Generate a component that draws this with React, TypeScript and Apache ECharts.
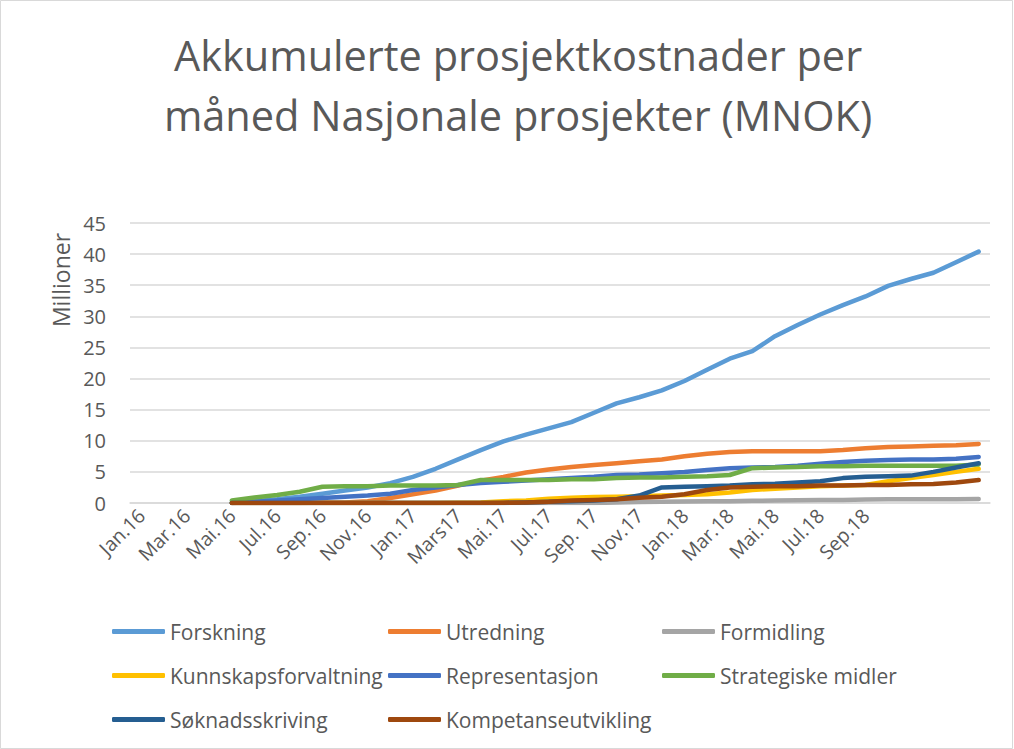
import React, { useEffect, useRef } from "react";
import * as echarts from "echarts";

const TITLE = "Akkumulerte prosjektkostnader per\nmåned Nasjonale prosjekter (MNOK)";
const Y_NAME = "Millioner";

const MONTHS = [
  "Jan.16", "Feb.16", "Mar.16", "Apr.16", "Mai.16", "Jun.16", "Jul.16", "Aug.16", "Sep.16", "Okt.16", "Nov.16", "Des.16",
  "Jan.17", "Feb.17", "Mars17", "Apr.17", "Mai.17", "Jun.17", "Jul.17", "Aug.17", "Sep. 17", "Okt.17", "Nov.17", "Des.17",
  "Jan.18", "Feb.18", "Mar.18", "Apr.18", "Mai.18", "Jun.18", "Jul.18", "Aug.18", "Sep.18", "Okt.18", "Nov.18", "Des.18",
  "Jan.19", "Feb.19",
];
const LAST_LABELLED = "Sep.18";

const N = null;
const FORSKNING = [N, N, N, N, 0.1, 0.3, 0.6, 1.0, 1.5, 2.0, 2.5, 3.2, 4.2, 5.5, 7.0, 8.5, 9.9, 11.0, 12.0, 13.0, 14.5, 16.0, 17.0, 18.1, 19.6, 21.4, 23.2, 24.4, 26.8, 28.6, 30.3, 31.8, 33.2, 34.9, 36.0, 37.0, 38.7, 40.4];
const UTREDNING = [N, N, N, N, 0, 0, 0, 0, 0.1, 0.1, 0.3, 0.8, 1.4, 2.0, 2.8, 3.6, 4.2, 4.9, 5.4, 5.8, 6.1, 6.4, 6.7, 7.0, 7.5, 7.9, 8.2, 8.3, 8.3, 8.3, 8.3, 8.5, 8.8, 9.0, 9.1, 9.2, 9.3, 9.5];
const FORMIDLING = [N, N, N, N, 0, 0, 0, 0, 0, 0, 0, 0, 0, 0, 0, 0, 0, 0, 0, 0, 0, 0.1, 0.15, 0.2, 0.25, 0.3, 0.3, 0.35, 0.4, 0.45, 0.5, 0.5, 0.55, 0.6, 0.6, 0.6, 0.6, 0.65];
const KUNNSKAP = [N, N, N, N, 0, 0, 0, 0, 0, 0, 0, 0, 0, 0, 0.05, 0.1, 0.3, 0.4, 0.7, 0.85, 0.95, 1.0, 1.1, 1.2, 1.3, 1.4, 1.7, 2.1, 2.3, 2.5, 2.7, 2.8, 2.9, 3.5, 4.0, 4.5, 5.0, 5.5];
const REPRESENTASJON = [N, N, N, N, 0, 0.2, 0.4, 0.6, 0.8, 1.0, 1.2, 1.5, 2.1, 2.5, 2.9, 3.2, 3.4, 3.6, 3.8, 4.0, 4.2, 4.5, 4.6, 4.8, 5.0, 5.3, 5.6, 5.7, 5.8, 6.0, 6.3, 6.6, 6.8, 6.9, 7.0, 7.0, 7.1, 7.4];
const STRATEGISKE = [N, N, N, N, 0.4, 0.9, 1.3, 1.8, 2.6, 2.7, 2.7, 2.8, 2.8, 2.8, 2.9, 3.7, 3.7, 3.7, 3.7, 3.8, 3.8, 4.0, 4.1, 4.1, 4.2, 4.3, 4.5, 5.6, 5.7, 5.8, 5.9, 5.9, 6.0, 6.0, 6.0, 6.0, 6.0, 6.2];
const SOKNAD = [N, N, N, N, 0, 0, 0, 0, 0, 0, 0, 0, 0, 0, 0, 0, 0, 0.1, 0.2, 0.3, 0.4, 0.6, 1.2, 2.5, 2.6, 2.7, 2.8, 3.0, 3.1, 3.3, 3.5, 4.0, 4.2, 4.3, 4.4, 5.0, 5.7, 6.4];
const KOMPETANSE = [N, N, N, N, 0, 0, 0, 0, 0, 0, 0, 0, 0, 0, 0, 0, 0.05, 0.1, 0.2, 0.4, 0.5, 0.6, 0.85, 1.0, 1.4, 2.1, 2.5, 2.6, 2.7, 2.7, 2.8, 2.8, 2.9, 2.9, 3.0, 3.05, 3.3, 3.7];

const SERIES_NAMES = [
  "Forskning", "Utredning", "Formidling",
  "Kunnskapsforvaltning", "Representasjon", "Strategiske midler",
  "Søknadsskriving", "Kompetanseutvikling",
];
const SERIES_VALUES = [FORSKNING, UTREDNING, FORMIDLING, KUNNSKAP, REPRESENTASJON, STRATEGISKE, SOKNAD, KOMPETANSE];
const COLORS = ["#5B9BD5", "#ED7D31", "#A5A5A5", "#FFC000", "#4472C4", "#70AD47", "#255E91", "#9E480E"];

const FONT = "'Open Sans', sans-serif";
const TEXT = "#595959";
const GRID = "#D9D9D9";

export default function App() {
  const ref = useRef<HTMLDivElement>(null);
  useEffect(() => {
    if (!ref.current) return;
    const chart = echarts.init(ref.current, null, { renderer: "svg" });
    const lastIdx = MONTHS.indexOf(LAST_LABELLED);
    const colLeft = [112, 388, 662];
    const rowTop = [621, 665, 709];
    const legends = SERIES_NAMES.map((name, i) => ({
      data: [name],
      left: colLeft[i % 3],
      top: rowTop[Math.floor(i / 3)],
      padding: 0,
      icon: "roundRect",
      itemWidth: 53,
      itemHeight: 5,
      selectedMode: false,
      textStyle: { color: TEXT, fontSize: 21, fontFamily: FONT },
    }));
    chart.setOption({
      animation: false,
      backgroundColor: "#fff",
      color: COLORS,
      textStyle: { fontFamily: FONT },
      legend: legends,
      grid: { left: 130, right: 24, top: 223, bottom: 246, containLabel: false },
      xAxis: {
        type: "category",
        data: MONTHS,
        boundaryGap: true,
        axisLine: { show: true, lineStyle: { color: GRID, width: 1.5 } },
        axisTick: { show: false },
        axisLabel: {
          interval: 1,
          rotate: 45,
          margin: 9,
          color: TEXT,
          fontSize: 19.5,
          fontFamily: FONT,
          formatter: (v: string, idx: number) => (idx > lastIdx ? "" : v),
        },
        splitLine: { show: false },
      },
      yAxis: {
        type: "value",
        min: 0,
        max: 45,
        interval: 5,
        axisLine: { show: false },
        axisTick: { show: false },
        axisLabel: { color: TEXT, fontSize: 20, fontFamily: FONT, margin: 24 },
        splitLine: { lineStyle: { color: GRID, width: 1.5 } },
      },
      graphic: [
        {
          type: "text",
          x: 518,
          y: 25,
          style: {
            text: TITLE,
            fill: TEXT,
            font: `41.5px ${FONT}`,
            lineHeight: 60,
            textAlign: "center",
            textVerticalAlign: "top",
          },
        },
        {
          type: "text",
          x: 61,
          y: 280,
          rotation: Math.PI / 2,
          style: {
            text: Y_NAME,
            fill: TEXT,
            font: `23px ${FONT}`,
            textAlign: "center",
            textVerticalAlign: "middle",
          },
        },
        {
          type: "rect",
          shape: { x: 0.5, y: 0.5, width: 1012, height: 748 },
          style: { fill: "none", stroke: GRID, lineWidth: 1 },
          silent: true,
        },
      ],
      series: SERIES_NAMES.map((name, i) => ({
        name,
        type: "line",
        data: SERIES_VALUES[i],
        showSymbol: false,
        symbol: "none",
        connectNulls: false,
        lineStyle: { width: 4.5, color: COLORS[i], cap: "round", join: "round" },
        itemStyle: { color: COLORS[i] },
      })),
    });
    return () => chart.dispose();
  }, []);
  return (
    <div
      ref={ref}
      style={{ position: "absolute", left: 0, top: 0, width: 1014, height: 749 }}
    />
  );
}
